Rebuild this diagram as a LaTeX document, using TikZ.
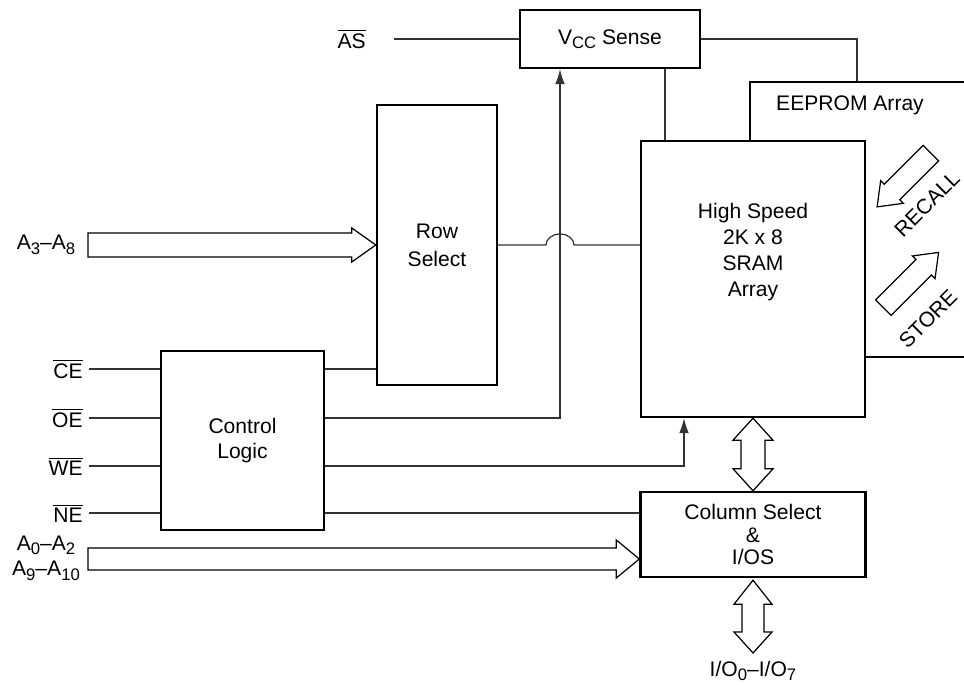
\documentclass[tikz,border=0pt]{standalone}
\usepackage{fontspec}
\setmainfont{Liberation Sans}
\usetikzlibrary{arrows.meta,positioning,calc}

\newcommand{\nbar}[1]{$\overline{\mbox{#1}}$}
\newcommand{\sub}[1]{\raisebox{-0.4ex}{\fontsize{9.5}{10}\selectfont #1}}

\tikzset{
  block/.style={draw, line width=1.4pt, fill=white, inner sep=0pt, align=center},
  sig/.style={line width=0.7pt, draw=black!80},
  bus/.style={line width=0.7pt, draw=black, fill=white, line join=miter},
  pin/.style={inner sep=0pt, anchor=east},
  tip/.style={-{Latex[length=8.5pt,width=5.5pt]}},
}

\begin{document}
\begin{tikzpicture}[x=0.02cm, y=-0.02cm, font=\fontsize{12}{14.7}\selectfont]
    \useasboundingbox (0,0) rectangle (964,685);
    \clip (0,0) rectangle (964,685);

    % Blocks
    \node[block, minimum width=3.6cm, minimum height=1.16cm] (vcc) at (610,39) {V\sub{CC} Sense};
    \node[block, minimum width=2.4cm, minimum height=5.6cm, font=\fontsize{12}{15.9}\selectfont] (rowsel) at (437,245) {Row\\Select};
    \node[block, minimum width=3.26cm, minimum height=3.58cm] (ctrl) at (242.5,440.5) {Control\\Logic};
    \node[block, minimum width=5cm, minimum height=5.5cm] (eeprom) at (875,219.5) {};
    \node[block, minimum width=4.48cm, minimum height=5.52cm] (sram) at (753,279) {};
    \node[block, minimum width=4.5cm, minimum height=1.7cm, font=\fontsize{12}{12.8}\selectfont] (colsel) at (753,534.5) {Column Select\\\&\\I/OS};
    \node (eetxt) at (850,105) {EEPROM Array};
    \node[align=center] (sramtxt) at (753,252) {High Speed\\2K x 8\\SRAM\\Array};

    % Pins
    \node[pin] (as) at (366,39) {\nbar{AS}};
    \node[pin] (ce) at (83,369) {\nbar{CE}};
    \node[pin] (oe) at (83,418) {\nbar{OE}};
    \node[pin] (we) at (83,466) {\nbar{WE}};
    \node[pin] (ne) at (83,513) {\nbar{NE}};
    \node (adrA) at (46,245) {A\sub{3}–A\sub{8}};
    \node[align=center] (adrB) at (46,558) {A\sub{0}–A\sub{2}\\A\sub{9}–A\sub{10}};
    \node (io) at (753,671) {I/O\sub{0}–I/O\sub{7}};

    \coordinate (asin) at (394,39);
    \coordinate (up) at (560,0);
    \coordinate (wr) at (684,0);
    \coordinate (vs) at (665,0);
    \coordinate (et) at (857,0);
    \coordinate (bA) at (88,245);
    \coordinate (bB) at (88,559);
    \coordinate (iotip) at (753,653);

    % Control lines
    \draw[sig] (asin) -- (vcc.west);
    \foreach \p in {ce,oe,we,ne}
        \draw[sig] (\p.east) ++(6,0) -- (\p.east -| ctrl.west);
    \draw[sig] (ctrl.east |- ce) -- (rowsel.west |- ce);
    \draw[sig, tip] (ctrl.east |- oe) -| (up |- vcc.south);
    \draw[sig, tip] (ctrl.east |- we) -| (wr |- sram.south);
    \draw[sig] (ctrl.east |- ne) -- (colsel.west |- ne);
    \draw[sig] (rowsel.east) -- ($(rowsel.east -| up)+(-14,0)$)
        arc[start angle=180, end angle=360, x radius=14, y radius=11] -- (rowsel.east -| sram.west);
    \draw[sig] (vs |- vcc.south) -- (vs |- sram.north);
    \draw[sig] (vcc.east) -| (et |- eeprom.north);

    % Address buses
    \draw[bus] ($(bA)+(0,-12)$) -- ($(bA -| rowsel.west)+(-24,-12)$) -- ++(0,-5) -- (bA -| rowsel.west)
        -- ++(-24,17) -- ++(0,-5) -- ($(bA)+(0,12)$) -- cycle;
    \draw[bus] ($(bB)+(0,-11)$) -- ($(bB -| colsel.west)+(-23,-11)$) -- ++(0,-8) -- (bB -| colsel.west)
        -- ++(-23,19) -- ++(0,-8) -- ($(bB)+(0,11)$) -- cycle;

    % Data buses
    \draw[bus] (sram.south) -- ++(20,22) -- ++(-8,0) -- ($(colsel.north)+(12,-22)$) -- ++(8,0) -- (colsel.north)
        -- ++(-20,-22) -- ++(8,0) -- ($(sram.south)+(-12,22)$) -- ++(-8,0) -- cycle;
    \draw[bus] ($(colsel.south)+(0,2)$) -- ++(19,24) -- ++(-8,0) -- ($(iotip)+(11,-21)$) -- ++(8,0) -- (iotip)
        -- ++(-19,-21) -- ++(8,0) -- ($(colsel.south)+(-11,26)$) -- ++(-8,0) -- cycle;

    % Recall / store
    \begin{scope}[shift={(904,180)}, rotate=225]
        \draw[bus] (-38,-11) -- (17,-11) -- (17,-16) -- (38,0) -- (17,16) -- (17,11) -- (-38,11) -- cycle;
    \end{scope}
    \begin{scope}[shift={(911,280)}, rotate=45]
        \draw[bus] (-39,-11) -- (18,-11) -- (18,-16) -- (39,0) -- (18,16) -- (18,11) -- (-39,11) -- cycle;
    \end{scope}
    \node[rotate=45, inner sep=1pt] (recall) at (927,204) {RECALL};
    \node[rotate=45, inner sep=1pt] (store) at (928,319) {STORE};
\end{tikzpicture}
\end{document}
